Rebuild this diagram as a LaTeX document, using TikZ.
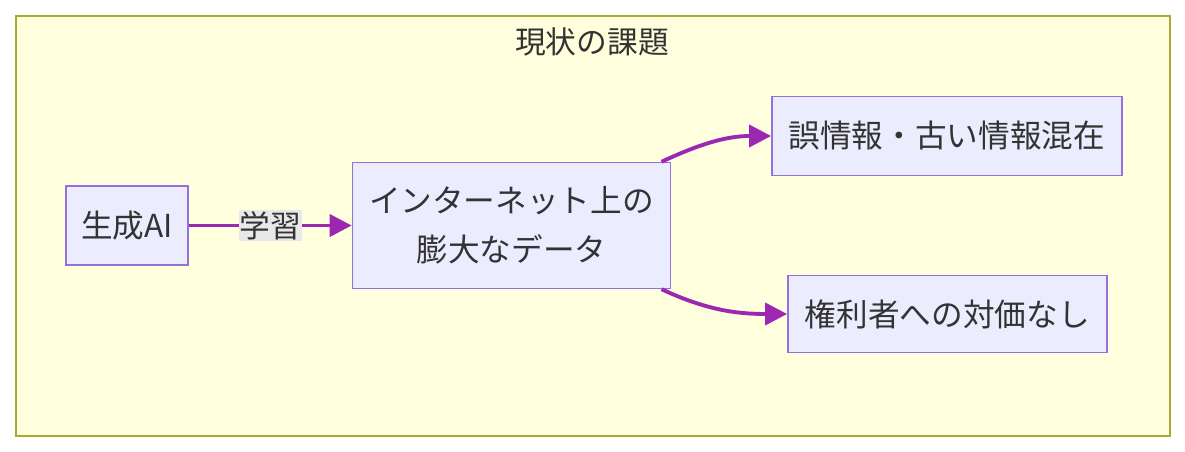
\documentclass[tikz,border=0pt]{standalone}
\usepackage{fontspec}
\setmainfont{Noto Sans CJK JP}
\usepackage{xcolor}
\usepackage{tikz}
\usetikzlibrary{arrows.meta, positioning}
\definecolor{nodefill}{HTML}{ECECFF}
\definecolor{nodeline}{HTML}{9370DB}
\definecolor{areafill}{HTML}{FFFFDE}
\definecolor{arealine}{HTML}{AAAA33}
\definecolor{edgecol}{HTML}{9C27B0}
\definecolor{labelfill}{HTML}{E8E8E8}
\definecolor{textcol}{HTML}{333333}
\tikzstyle{box} = [rectangle, draw=nodeline, fill=nodefill, line width=0.8pt, text=textcol, align=center, inner sep=0pt, font=\fontsize{18}{28}\selectfont]
\tikzstyle{edgelabel} = [fill=labelfill, text=textcol, inner sep=0.5pt, font=\fontsize{17.5}{20}\selectfont]
\tikzstyle{arrow} = [draw=edgecol, line width=2.2pt, -{Triangle[length=0.44cm, width=0.44cm]}]

\begin{document}
\begin{tikzpicture}
        \useasboundingbox (0,0) rectangle (23.7,-9.04);
        % Subgraph area
        \draw [draw=arealine, fill=areafill, line width=1.1pt] (0.32,-0.32) rectangle (23.4,-8.72);
        \node (title) [text=textcol, font=\fontsize{17.5}{20}\selectfont] at (11.84,-0.84) {現状の課題};

        % Nodes
        \node (ai) [box, minimum width=2.44cm, minimum height=1.58cm] at (2.54,-4.51) {生成AI};
        \node (data) [box, minimum width=6.36cm, minimum height=2.52cm, right=3.26cm of ai] {インターネット上の\\膨大なデータ};
        \node (misinfo) [box, minimum width=7.0cm, minimum height=1.58cm, right=2cm of data, yshift=1.79cm] {誤情報・古い情報混在};
        \node (rights) [box, minimum width=6.38cm, minimum height=1.54cm, right=2.32cm of data, yshift=-1.77cm] {権利者への対価なし};

        % Arrows
        \draw [arrow] (ai) -- node (learn) [edgelabel] {学習} (data);
        \draw [arrow] (data.23) to[out=25, in=180] (misinfo.west);
        \draw [arrow] (data.-23) to[out=-25, in=180] (rights.west);
      \end{tikzpicture}
\end{document}
